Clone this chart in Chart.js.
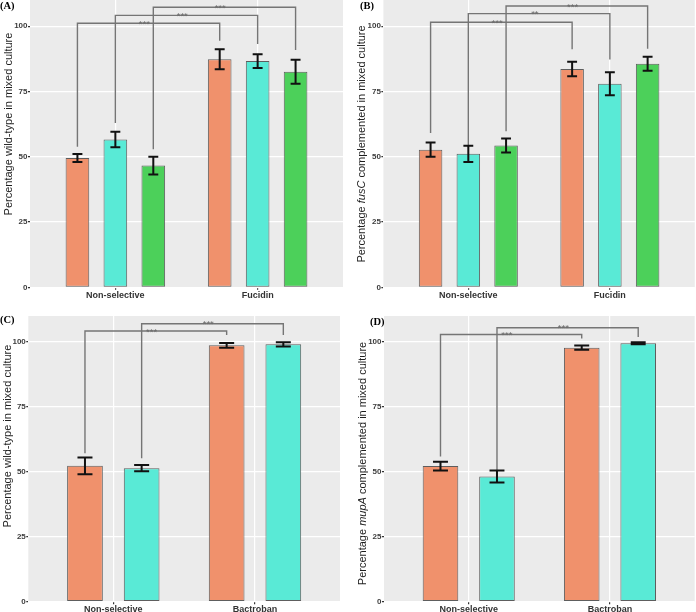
<!DOCTYPE html>
<html>
<head>
<meta charset="utf-8">
<script src="https://cdn.jsdelivr.net/npm/chart.js@4.4.1/dist/chart.umd.min.js"></script>
<style>
html,body{margin:0;padding:0;background:#ffffff;}
#wrap{position:relative;width:696px;height:612px;overflow:hidden;}
.pane{position:absolute;width:348px;height:306px;}
canvas{display:block;}
</style>
</head>
<body>
<div id="wrap">
  <div class="pane" style="left:0;top:0"><canvas id="cA" width="348" height="306"></canvas></div>
  <div class="pane" style="left:348px;top:0"><canvas id="cB" width="348" height="306"></canvas></div>
  <div class="pane" style="left:0;top:306px"><canvas id="cC" width="348" height="306"></canvas></div>
  <div class="pane" style="left:348px;top:306px"><canvas id="cD" width="348" height="306"></canvas></div>
</div>
<script>
// ---------------- DATA ----------------
const categoriesFucidin = ['Non-selective', 'Fucidin'];
const categoriesBactroban = ['Non-selective', 'Bactroban'];
const yTickValues = [0, 25, 50, 75, 100];

// Panel A: percentage wild-type (fusidic acid)
const aOrange = [49.5, 87.3];  const aOrangeErr = [1.5, 3.8];
const aCyan   = [56.6, 86.6];  const aCyanErr   = [3.0, 2.6];
const aGreen  = [46.6, 82.5];  const aGreenErr  = [3.4, 4.6];
// brackets: [series, line level, left leg end, right leg end, label]
const aBrackets = [[0, 101.1, 53.8, 94.4, '***'], [1, 104.1, 62.9, 93.2, '***'], [2, 107.2, 52.9, 90.9, '***']];

// Panel B: percentage fusC complemented
const bOrange = [52.7, 83.6];  const bOrangeErr = [2.7, 2.8];
const bCyan   = [51.1, 77.9];  const bCyanErr   = [3.1, 4.4];
const bGreen  = [54.3, 85.6];  const bGreenErr  = [2.7, 2.7];
const bBrackets = [[0, 101.5, 59.1, 91.1, '***'], [1, 104.8, 53.6, 87.2, '**'], [2, 107.7, 59.7, 91.3, '***']];

// Panel C: percentage wild-type (mupirocin)
const cOrange = [52.3, 98.7];  const cOrangeErr = [3.2, 0.9];
const cCyan   = [51.4, 99.1];  const cCyanErr   = [1.2, 0.8];
const cBrackets = [[0, 104.2, 57.2, 102.7, '***'], [1, 107.0, 55.2, 102.7, '***']];

// Panel D: percentage mupA complemented
const dOrange = [52.2, 97.8];  const dOrangeErr = [1.7, 0.8];
const dCyan   = [48.2, 99.5];  const dCyanErr   = [2.3, 0.4];
const dBrackets = [[0, 102.9, 55.9, 101.3, '***'], [1, 105.5, 50.1, 101.9, '***']];

// ---------------- STYLE ----------------
const COL_ORANGE = '#F0916C';
const COL_CYAN = '#59EAD6';
const COL_GREEN = '#4CD05A';
const SANS = '"Liberation Sans", Arial, Helvetica, sans-serif';
const SERIF = '"Liberation Serif", "Times New Roman", serif';

const decor = {
  id: 'decor',
  beforeDraw(chart) {
    const a = chart.chartArea, ctx = chart.ctx;
    ctx.save();
    ctx.fillStyle = '#EBEBEB';
    ctx.fillRect(a.left, a.top, a.right - a.left, a.bottom - a.top);
    ctx.restore();
  },
  afterDatasetsDraw(chart) {
    const o = chart.options.plugins.decor;
    const ctx = chart.ctx, ys = chart.scales.y;
    // brackets
    ctx.save();
    o.brackets.forEach(([s, lvl, lEnd, rEnd, lab]) => {
      const meta = chart.getDatasetMeta(s);
      const x1 = meta.data[0].x, x2 = meta.data[1].x;
      const yl = ys.getPixelForValue(lvl);
      ctx.strokeStyle = '#757575';
      ctx.lineWidth = 1.4;
      ctx.beginPath();
      ctx.moveTo(x1, ys.getPixelForValue(lEnd));
      ctx.lineTo(x1, yl);
      ctx.lineTo(x2, yl);
      ctx.lineTo(x2, ys.getPixelForValue(rEnd));
      ctx.stroke();
      ctx.fillStyle = '#6a6a6a';
      ctx.font = '9.5px ' + SANS;
      ctx.textAlign = 'center';
      ctx.textBaseline = 'alphabetic';
      ctx.fillText(lab, x1 + (x2 - x1) * 0.47, yl + 3.6);
    });
    ctx.restore();
    // error bars
    ctx.save();
    ctx.strokeStyle = '#111111';
    ctx.lineWidth = 2;
    chart.data.datasets.forEach((ds, i) => {
      const meta = chart.getDatasetMeta(i);
      meta.data.forEach((bar, j) => {
        const v = ds.data[j].y, e = ds.err[j];
        const yt = ys.getPixelForValue(v + e), yb = ys.getPixelForValue(v - e);
        const half = bar.width * 0.21;
        ctx.beginPath();
        ctx.moveTo(bar.x, yt); ctx.lineTo(bar.x, yb);
        ctx.moveTo(bar.x - half, yt); ctx.lineTo(bar.x + half, yt);
        ctx.moveTo(bar.x - half, yb); ctx.lineTo(bar.x + half, yb);
        ctx.stroke();
      });
    });
    ctx.restore();
  },
  afterDraw(chart) {
    const o = chart.options.plugins.decor;
    const ctx = chart.ctx;
    // y-axis title with optional italic part
    ctx.save();
    ctx.translate(o.titleX, o.titleY);
    ctx.rotate(-Math.PI / 2);
    ctx.fillStyle = '#1e1e1e';
    ctx.textBaseline = 'middle';
    ctx.textAlign = 'left';
    let total = 0;
    o.title.forEach(([t, it]) => { ctx.font = (it ? 'italic ' : '') + '11px ' + SANS; total += ctx.measureText(t).width; });
    let x = -total / 2;
    o.title.forEach(([t, it]) => { ctx.font = (it ? 'italic ' : '') + '11px ' + SANS; ctx.fillText(t, x, 0); x += ctx.measureText(t).width; });
    ctx.restore();
    // panel label
    ctx.save();
    ctx.fillStyle = '#000';
    ctx.font = 'bold 10.5px ' + SERIF;
    ctx.textBaseline = 'top';
    ctx.textAlign = 'left';
    ctx.fillText(o.label, o.labelX, o.labelY);
    ctx.restore();
  }
};

function makePanel(id, cats, series, brackets, title, label, L) {
  const W = 348, H = 306;
  const datasets = series.map(([vals, errs, col]) => ({
    data: vals.map((v, j) => ({ x: j + 1, y: v })),
    err: errs,
    backgroundColor: col,
    borderColor: '#5e5e5e',
    borderWidth: 1,
    borderSkipped: false,
    categoryPercentage: 0.8,
    barPercentage: L.barPct
  }));
  return new Chart(document.getElementById(id), {
    type: 'bar',
    data: { datasets },
    options: {
      responsive: false,
      animation: false,
      devicePixelRatio: 1,
      layout: { padding: { left: 0, top: L.top, right: W - L.right, bottom: 0 } },
      plugins: {
        legend: { display: false },
        tooltip: { enabled: false },
        decor: { brackets, title, label, titleX: L.titleX, titleY: L.titleY, labelX: L.labelX, labelY: L.labelY }
      },
      scales: {
        x: {
          type: 'linear', min: 0.4, max: 2.6, offset: false,
          afterBuildTicks: s => { s.ticks = cats.map((c, i) => ({ value: i + 1 })); },
          afterFit: s => { s.height = H - L.bottom; s.paddingLeft = 0; s.paddingRight = 0; },
          ticks: {
            callback: v => cats[Math.round(v) - 1],
            autoSkip: false, maxRotation: 0, padding: L.xPad,
            color: '#333333',
            font: { family: SANS, size: 9, weight: 'bold' }
          },
          grid: { color: '#ffffff', lineWidth: 1.2, tickColor: '#333333', tickLength: 2.5, offset: false },
          border: { display: false }
        },
        y: {
          min: 0, max: 110,
          afterBuildTicks: s => { s.ticks = yTickValues.map(v => ({ value: v })); },
          afterFit: s => { s.width = L.left; s.paddingTop = 0; s.paddingBottom = 0; },
          ticks: {
            callback: v => String(v),
            padding: 0.5,
            color: '#3c3c3c',
            font: { family: SANS, size: 8, weight: 'bold' }
          },
          grid: { color: '#ffffff', lineWidth: 1.2, tickColor: '#333333', tickLength: 2 },
          border: { display: false }
        }
      }
    },
    plugins: [decor]
  });
}

makePanel('cA', categoriesFucidin,
  [[aOrange, aOrangeErr, COL_ORANGE], [aCyan, aCyanErr, COL_CYAN], [aGreen, aGreenErr, COL_GREEN]],
  aBrackets, [['Percentage wild-type in mixed culture', false]], '(A)',
  { left: 30, right: 343, top: 0, bottom: 287.3, titleX: 8.7, titleY: 124, labelX: 0, labelY: 1, barPct: 0.623, xPad: 0 });

makePanel('cB', categoriesFucidin,
  [[bOrange, bOrangeErr, COL_ORANGE], [bCyan, bCyanErr, COL_CYAN], [bGreen, bGreenErr, COL_GREEN]],
  bBrackets, [['Percentage ', false], ['fusC', true], [' complemented in mixed culture', false]], '(B)',
  { left: 35.4, right: 346.8, top: 0, bottom: 287.3, titleX: 13.8, titleY: 144, labelX: 12, labelY: 1, barPct: 0.623, xPad: 0 });

makePanel('cC', categoriesBactroban,
  [[cOrange, cOrangeErr, COL_ORANGE], [cCyan, cCyanErr, COL_CYAN]],
  cBrackets, [['Percentage wild-type in mixed culture', false]], '(C)',
  { left: 28.3, right: 340, top: 10, bottom: 295.7, titleX: 7.5, titleY: 130, labelX: 0, labelY: 9, barPct: 0.63, xPad: 0 });

makePanel('cD', categoriesBactroban,
  [[dOrange, dOrangeErr, COL_ORANGE], [dCyan, dCyanErr, COL_CYAN]],
  dBrackets, [['Percentage ', false], ['mupA', true], [' complemented in mixed culture', false]], '(D)',
  { left: 36, right: 346.7, top: 10, bottom: 295.7, titleX: 14.7, titleY: 157.5, labelX: 22, labelY: 11, barPct: 0.63, xPad: 0 });
</script>
</body>
</html>
